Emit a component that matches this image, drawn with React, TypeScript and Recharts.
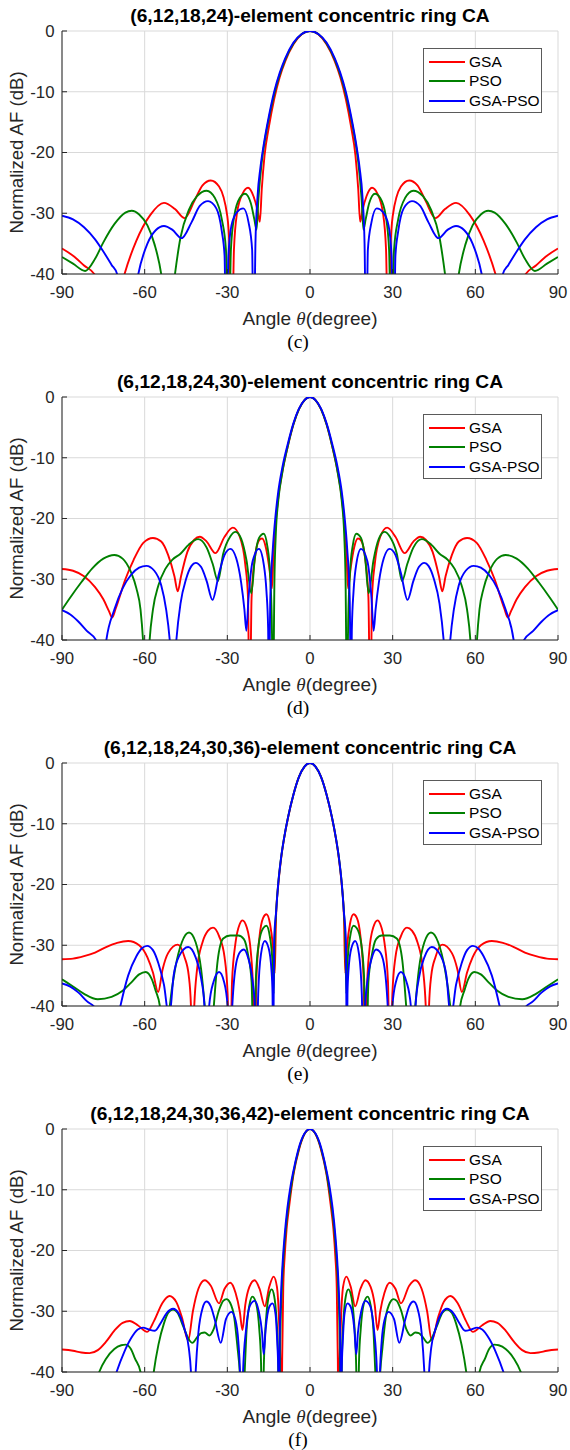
import React from 'react';
import { LineChart, Line, XAxis, YAxis, CartesianGrid } from 'recharts';

type Pt = [number, number];

// angle (degree) vs normalized AF (dB).
// values below -40 are nulls that get clipped by the axis.

// (c) (6,12,18,24)
const p1Gsa: Pt[] = [
  [-90, -35.8], [-86, -37], [-82, -38.6], [-78, -40.2], [-72.5, -50], [-67.3, -40], [-63, -34.5], [-58, -30.3],
  [-53, -28.3], [-49, -29.3], [-45.5, -30.8], [-42, -28], [-39, -25.4], [-36, -24.6], [-33, -25.6], [-30, -30.5],
  [-29.2, -36], [-28.4, -55], [-27.6, -36], [-26.5, -30], [-24.5, -26.8], [-22.5, -25.8], [-20.5, -27.2], [-19, -29.6],
  [-18.2, -31.4], [-17.5, -26], [-16.5, -20.5], [-15, -16], [-13, -11.2], [-11, -7.6], [-9, -5], [-6, -2.2], [-3, -0.55],
  [0, 0],
  [3, -0.55], [6, -2.2], [9, -5], [11, -7.6], [13, -11.2], [15, -16], [16.5, -20.5], [17.5, -26], [18.2, -31.4],
  [19, -29.6], [20.5, -27.2], [22.5, -25.8], [24.5, -26.8], [26.5, -30], [27.6, -36], [28.4, -55], [29.2, -36],
  [30, -30.5], [33, -25.6], [36, -24.6], [39, -25.4], [42, -28], [45.5, -30.8], [49, -29.3], [53, -28.3], [58, -30.3],
  [63, -34.5], [67.3, -40], [72.5, -50], [78, -40.2], [82, -38.6], [86, -37], [90, -35.8],
];
const p1Pso: Pt[] = [
  [-90, -37.2], [-86, -38.3], [-81.6, -39.5], [-78, -37.5], [-75, -34.8], [-71, -31.8], [-67, -29.9], [-64.7, -29.6],
  [-62, -30.2], [-59, -32], [-56.5, -35], [-54, -40], [-51.5, -50], [-49, -40], [-47, -34], [-44, -29.5], [-41, -27.2],
  [-37.5, -26.3], [-34.5, -27.5], [-32, -31], [-30.5, -36], [-29.6, -55], [-28.7, -36], [-27.5, -30.5], [-25.5, -27.5],
  [-23.6, -26.8], [-21.5, -28.3], [-20.2, -31], [-19.4, -32.7], [-18.7, -27.5], [-17.5, -21.5], [-16, -17], [-14, -12.4],
  [-12, -8.7], [-9, -4.7], [-6, -2.05], [-3, -0.5],
  [0, 0],
  [3, -0.5], [6, -2.05], [9, -4.7], [12, -8.7], [14, -12.4], [16, -17], [17.5, -21.5], [18.7, -27.5], [19.4, -32.7],
  [20.2, -31], [21.5, -28.3], [23.6, -26.8], [25.5, -27.5], [27.5, -30.5], [28.7, -36], [29.6, -55], [30.5, -36],
  [32, -31], [34.5, -27.5], [37.5, -26.3], [41, -27.2], [44, -29.5], [47, -34], [49, -40], [51.5, -50], [54, -40],
  [56.5, -35], [59, -32], [62, -30.2], [64.7, -29.6], [67, -29.9], [71, -31.8], [75, -34.8], [78, -37.5], [81.6, -39.5],
  [86, -38.3], [90, -37.2],
];
const p1GsaPso: Pt[] = [
  [-90, -30.4], [-86, -31], [-82, -32.3], [-78, -34.3], [-75, -36.3], [-72, -38.5], [-70, -40], [-66, -52], [-62.3, -40],
  [-59, -35], [-56, -32.8], [-53, -32.1], [-50, -32.7], [-46.6, -34.1], [-43, -31.5], [-40, -28.8], [-37, -28],
  [-34, -29.2], [-32, -33], [-31, -37], [-30.4, -55], [-29.6, -37], [-28.5, -32], [-26.5, -29.8], [-24.2, -29.2],
  [-22.3, -31.5], [-21, -36], [-20.4, -55], [-19.8, -35], [-19, -27], [-18, -22.5], [-17, -19.3], [-15, -14.2],
  [-13, -10], [-11, -6.9], [-9, -4.5], [-6, -1.9], [-3, -0.48],
  [0, 0],
  [3, -0.48], [6, -1.9], [9, -4.5], [11, -6.9], [13, -10], [15, -14.2], [17, -19.3], [18, -22.5], [19, -27], [19.8, -35],
  [20.4, -55], [21, -36], [22.3, -31.5], [24.2, -29.2], [26.5, -29.8], [28.5, -32], [29.6, -37], [30.4, -55], [31, -37],
  [32, -33], [34, -29.2], [37, -28], [40, -28.8], [43, -31.5], [46.6, -34.1], [50, -32.7], [53, -32.1], [56, -32.8],
  [59, -35], [62.3, -40], [66, -52], [70, -40], [72, -38.5], [75, -36.3], [78, -34.3], [82, -32.3], [86, -31], [90, -30.4],
];

// (d) (6,12,18,24,30)
const p2Gsa: Pt[] = [
  [-90, -28.3], [-86, -28.6], [-82, -29.5], [-78, -31.3], [-75, -33.3], [-73, -35.2], [-71.8, -36.3], [-70.5, -34.8],
  [-67, -30], [-64, -26.8], [-60.5, -24], [-57, -23.2], [-54, -23.8], [-51.5, -26], [-49.2, -29.5], [-48, -32],
  [-46.8, -29.5], [-44.5, -25.5], [-42, -23.5], [-40, -23], [-37.5, -23.8], [-34.3, -25.7], [-31, -23], [-28, -21.5],
  [-25.5, -23], [-23.5, -27.5], [-22.5, -33], [-21.9, -55], [-21.2, -33], [-20, -26.5], [-18.5, -23.6], [-17.4, -23.3],
  [-16, -24.8], [-14.8, -28], [-13.8, -31.5], [-13.3, -26.5], [-12.5, -21], [-11.5, -16.5], [-10, -12.2], [-8, -8],
  [-6, -4.5], [-4, -2], [-2, -0.5],
  [0, 0],
  [2, -0.5], [4, -2], [6, -4.5], [8, -8], [10, -12.2], [11.5, -16.5], [12.5, -21], [13.3, -26.5], [13.8, -31.5],
  [14.8, -28], [16, -24.8], [17.4, -23.3], [18.5, -23.6], [20, -26.5], [21.2, -33], [21.9, -55], [22.5, -33],
  [23.5, -27.5], [25.5, -23], [28, -21.5], [31, -23], [34.3, -25.7], [37.5, -23.8], [40, -23], [42, -23.5], [44.5, -25.5],
  [46.8, -29.5], [48, -32], [49.2, -29.5], [51.5, -26], [54, -23.8], [57, -23.2], [60.5, -24], [64, -26.8], [67, -30],
  [70.5, -34.8], [71.8, -36.3], [73, -35.2], [75, -33.3], [78, -31.3], [82, -29.5], [86, -28.6], [90, -28.3],
];
const p2Pso: Pt[] = [
  [-90, -35], [-87, -33], [-83, -30.5], [-79, -28.2], [-75, -26.6], [-71, -26], [-68, -26.6], [-65, -28.8], [-63, -31.5],
  [-61.5, -35], [-60.6, -40], [-59.5, -52], [-58.2, -40], [-57, -35], [-55, -31], [-52.5, -28.3], [-50, -26.8],
  [-47, -25.8], [-44, -24.3], [-40.6, -23.4], [-37.5, -24.8], [-35.3, -27.5], [-33.4, -30.3], [-31.5, -25.8],
  [-29, -23], [-27, -22.2], [-25, -23.3], [-23, -27], [-21.3, -32.3], [-20, -26.5], [-18.5, -23.2], [-16.8, -22.5],
  [-15.5, -24.5], [-14.5, -29], [-13.9, -36], [-13.4, -50], [-12.9, -30], [-12.4, -22.5], [-11.5, -17], [-10, -12.3],
  [-8, -8], [-6, -4.5], [-4, -2], [-2, -0.5],
  [0, 0],
  [2, -0.5], [4, -2], [6, -4.5], [8, -8], [10, -12.3], [11.5, -17], [12.4, -22.5], [12.9, -30], [13.4, -50], [13.9, -36],
  [14.5, -29], [15.5, -24.5], [16.8, -22.5], [18.5, -23.2], [20, -26.5], [21.3, -32.3], [23, -27], [25, -23.3],
  [27, -22.2], [29, -23], [31.5, -25.8], [33.4, -30.3], [35.3, -27.5], [37.5, -24.8], [40.6, -23.4], [44, -24.3],
  [47, -25.8], [50, -26.8], [52.5, -28.3], [55, -31], [57, -35], [58.2, -40], [59.5, -52], [60.6, -40], [61.5, -35],
  [63, -31.5], [65, -28.8], [68, -26.6], [71, -26], [75, -26.6], [79, -28.2], [83, -30.5], [87, -33], [90, -35],
];
const p2GsaPso: Pt[] = [
  [-90, -35.1], [-87, -35.8], [-84, -37], [-81, -38.5], [-77.7, -40], [-75.8, -48], [-73.9, -40], [-71, -35],
  [-68, -31.5], [-65, -29.3], [-62, -28.1], [-59.4, -27.8], [-56.5, -28.6], [-54, -31], [-52.2, -35], [-50.9, -40],
  [-49.7, -48], [-48.5, -40], [-47, -34], [-45, -30], [-43, -27.8], [-41.5, -27.3], [-39.5, -28], [-37.5, -30.3],
  [-35.4, -33.4], [-33, -29], [-31, -26], [-28.9, -25], [-26.8, -26.5], [-25, -30.5], [-23.8, -35], [-23.1, -38.5],
  [-22.3, -33], [-20.8, -27], [-18.5, -25], [-16.8, -27.5], [-15.8, -32], [-15.2, -38], [-14.9, -50], [-14.4, -33],
  [-13.5, -25], [-12.5, -19.5], [-11.5, -15.5], [-10, -11.5], [-8, -7.6], [-6, -4.3], [-4, -1.9], [-2, -0.5],
  [0, 0],
  [2, -0.5], [4, -1.9], [6, -4.3], [8, -7.6], [10, -11.5], [11.5, -15.5], [12.5, -19.5], [13.5, -25], [14.4, -33],
  [14.9, -50], [15.2, -38], [15.8, -32], [16.8, -27.5], [18.5, -25], [20.8, -27], [22.3, -33], [23.1, -38.5], [23.8, -35],
  [25, -30.5], [26.8, -26.5], [28.9, -25], [31, -26], [33, -29], [35.4, -33.4], [37.5, -30.3], [39.5, -28], [41.5, -27.3],
  [43, -27.8], [45, -30], [47, -34], [48.5, -40], [49.7, -48], [50.9, -40], [52.2, -35], [54, -31], [56.5, -28.6],
  [59.4, -27.8], [62, -28.1], [65, -29.3], [68, -31.5], [71, -35], [73.9, -40], [75.8, -48], [77.7, -40], [81, -38.5],
  [84, -37], [87, -35.8], [90, -35.1],
];

// (e) (6,12,18,24,30,36)
const p3Gsa: Pt[] = [
  [-90, -32.3], [-86, -32.2], [-82, -31.8], [-78, -31.2], [-74, -30.3], [-70, -29.6], [-66, -29.3], [-62, -30],
  [-59, -32], [-57, -34.5], [-55.1, -37.7], [-53.5, -34], [-51.5, -31.3], [-48, -29.9], [-45.5, -32], [-44, -35],
  [-43.2, -40], [-42.7, -50], [-42, -40], [-41, -34], [-39, -29.5], [-37, -27.6], [-35.2, -27.1], [-33, -28.5],
  [-31, -32], [-29.9, -38], [-29.1, -55], [-28.3, -36], [-27, -29.5], [-25.5, -26.5], [-24.5, -25.9], [-23, -27],
  [-21.5, -31], [-20.6, -38], [-20.1, -55], [-19.5, -36], [-18.3, -28.5], [-17, -25.5], [-15.8, -24.9], [-14.5, -26.5],
  [-13.5, -30], [-12.8, -34.6], [-12.3, -25], [-11.5, -20], [-10.5, -15.8], [-9.5, -12.7], [-8, -9.1], [-6, -5.2],
  [-4, -2.3], [-2, -0.6],
  [0, 0],
  [2, -0.6], [4, -2.3], [6, -5.2], [8, -9.1], [9.5, -12.7], [10.5, -15.8], [11.5, -20], [12.3, -25], [12.8, -34.6],
  [13.5, -30], [14.5, -26.5], [15.8, -24.9], [17, -25.5], [18.3, -28.5], [19.5, -36], [20.1, -55], [20.6, -38],
  [21.5, -31], [23, -27], [24.5, -25.9], [25.5, -26.5], [27, -29.5], [28.3, -36], [29.1, -55], [29.9, -38], [31, -32],
  [33, -28.5], [35.2, -27.1], [37, -27.6], [39, -29.5], [41, -34], [42, -40], [42.7, -50], [43.2, -40], [44, -35],
  [45.5, -32], [48, -29.9], [51.5, -31.3], [53.5, -34], [55.1, -37.7], [57, -34.5], [59, -32], [62, -30], [66, -29.3],
  [70, -29.6], [74, -30.3], [78, -31.2], [82, -31.8], [86, -32.2], [90, -32.3],
];
const p3Pso: Pt[] = [
  [-90, -35.6], [-86, -36.8], [-82, -38], [-77, -38.9], [-72, -38.5], [-68, -37.5], [-65, -36.2], [-62, -34.8],
  [-59.6, -34.4], [-57.5, -35.5], [-56, -37.5], [-54.5, -40], [-52.7, -50], [-50.9, -40], [-49, -34], [-46.5, -29.5],
  [-43.9, -27.9], [-41.5, -29.5], [-39.5, -34], [-38.2, -40], [-36.5, -50], [-34.9, -40], [-33.5, -32.5],
  [-31.5, -28.9], [-29, -28.4], [-26, -28.4], [-24, -29], [-22.5, -31.5], [-21.2, -36], [-20.4, -50], [-19.6, -35],
  [-18.5, -29.5], [-17, -27.2], [-15.8, -26.8], [-14.6, -28.5], [-13.6, -33], [-13.2, -38], [-12.8, -29],
  [-12.3, -24.5], [-11.5, -19.7], [-10.5, -15.6], [-9.5, -12.6], [-8, -9], [-6, -5.2], [-4, -2.3], [-2, -0.6],
  [0, 0],
  [2, -0.6], [4, -2.3], [6, -5.2], [8, -9], [9.5, -12.6], [10.5, -15.6], [11.5, -19.7], [12.3, -24.5], [12.8, -29],
  [13.2, -38], [13.6, -33], [14.6, -28.5], [15.8, -26.8], [17, -27.2], [18.5, -29.5], [19.6, -35], [20.4, -50],
  [21.2, -36], [22.5, -31.5], [24, -29], [26, -28.4], [29, -28.4], [31.5, -28.9], [33.5, -32.5], [34.9, -40],
  [36.5, -50], [38.2, -40], [39.5, -34], [41.5, -29.5], [43.9, -27.9], [46.5, -29.5], [49, -34], [50.9, -40],
  [52.7, -50], [54.5, -40], [56, -37.5], [57.5, -35.5], [59.6, -34.4], [62, -34.8], [65, -36.2], [68, -37.5],
  [72, -38.5], [77, -38.9], [82, -38], [86, -36.8], [90, -35.6],
];
const p3GsaPso: Pt[] = [
  [-90, -36.3], [-87, -36.8], [-84, -37.8], [-81, -39.2], [-77.7, -40.5], [-73, -50], [-68.8, -40], [-66, -35],
  [-63, -31.8], [-61, -30.5], [-59.1, -30.1], [-57, -30.8], [-55, -33], [-53, -36.5], [-51.1, -42], [-49.5, -35],
  [-47.5, -31.8], [-44.2, -30.3], [-41.5, -32], [-39.5, -35.5], [-38.3, -40], [-37.6, -50], [-36.6, -40], [-35, -36],
  [-33, -34.4], [-31.2, -36], [-29.9, -40], [-29.1, -50], [-28.2, -40], [-26.8, -33], [-25.2, -31], [-24, -30.7],
  [-22.5, -32], [-20.8, -36], [-20, -40], [-19.4, -50], [-18.8, -38], [-17.8, -31.5], [-16.4, -29.3], [-15, -30.5],
  [-14, -34], [-13.6, -38], [-13.4, -50], [-13, -29], [-12.3, -24.5], [-11.5, -19.7], [-10.5, -15.6], [-9.5, -12.6],
  [-8, -9], [-6, -5.2], [-4, -2.3], [-2, -0.6],
  [0, 0],
  [2, -0.6], [4, -2.3], [6, -5.2], [8, -9], [9.5, -12.6], [10.5, -15.6], [11.5, -19.7], [12.3, -24.5], [13, -29],
  [13.4, -50], [13.6, -38], [14, -34], [15, -30.5], [16.4, -29.3], [17.8, -31.5], [18.8, -38], [19.4, -50], [20, -40],
  [20.8, -36], [22.5, -32], [24, -30.7], [25.2, -31], [26.8, -33], [28.2, -40], [29.1, -50], [29.9, -40], [31.2, -36],
  [33, -34.4], [35, -36], [36.6, -40], [37.6, -50], [38.3, -40], [39.5, -35.5], [41.5, -32], [44.2, -30.3],
  [47.5, -31.8], [49.5, -35], [51.1, -42], [53, -36.5], [55, -33], [57, -30.8], [59.1, -30.1], [61, -30.5], [63, -31.8],
  [66, -35], [68.8, -40], [73, -50], [77.7, -40.5], [81, -39.2], [84, -37.8], [87, -36.8], [90, -36.3],
];

// (f) (6,12,18,24,30,36,42)
const p4Gsa: Pt[] = [
  [-90, -36.3], [-86, -36.5], [-83, -36.8], [-80, -36.9], [-77, -36.4], [-74, -35], [-71, -33.2], [-68, -31.9],
  [-65.4, -31.6], [-62.5, -32.3], [-59.1, -33.4], [-56.5, -31.5], [-53.5, -28.6], [-51, -27.5], [-48.5, -28.5],
  [-46.5, -31], [-44.2, -34.8], [-42.5, -30], [-40.5, -26.3], [-38.2, -24.9], [-36, -25.8], [-33, -28.7], [-31, -26.3],
  [-28.9, -25.3], [-27, -27], [-25.5, -30], [-24.5, -33.1], [-23.5, -29], [-22, -26], [-20.1, -24.9], [-18.3, -26.3],
  [-16.4, -29.2], [-14.8, -26], [-13.2, -24.3], [-12, -26], [-11.2, -32], [-10.7, -40], [-10.4, -55], [-10.1, -38],
  [-9.7, -26], [-9.2, -21], [-8.5, -16.5], [-7.5, -12.5], [-6, -7.5], [-4, -3.4], [-2, -0.85],
  [0, 0],
  [2, -0.85], [4, -3.4], [6, -7.5], [7.5, -12.5], [8.5, -16.5], [9.2, -21], [9.7, -26], [10.1, -38], [10.4, -55],
  [10.7, -40], [11.2, -32], [12, -26], [13.2, -24.3], [14.8, -26], [16.4, -29.2], [18.3, -26.3], [20.1, -24.9],
  [22, -26], [23.5, -29], [24.5, -33.1], [25.5, -30], [27, -27], [28.9, -25.3], [31, -26.3], [33, -28.7], [36, -25.8],
  [38.2, -24.9], [40.5, -26.3], [42.5, -30], [44.2, -34.8], [46.5, -31], [48.5, -28.5], [51, -27.5], [53.5, -28.6],
  [56.5, -31.5], [59.1, -33.4], [62.5, -32.3], [65.4, -31.6], [68, -31.9], [71, -33.2], [74, -35], [77, -36.4],
  [80, -36.9], [83, -36.8], [86, -36.5], [90, -36.3],
];
const p4Pso: Pt[] = [
  [-81, -48], [-76.5, -40], [-74, -37.8], [-71, -36.2], [-68.5, -35.6], [-66.9, -35.5], [-65, -36.2], [-63.5, -37.8],
  [-61.5, -40], [-59, -50], [-56.7, -40], [-55, -35.5], [-53, -32], [-51.5, -30.3], [-49.7, -29.7], [-48, -30.3],
  [-46, -32.5], [-44, -34.6], [-42.7, -35.2], [-41, -34.3], [-39.5, -33.6], [-38.2, -33.5], [-36.5, -34], [-35, -33],
  [-33, -29.8], [-31.5, -28.3], [-30.3, -28], [-29, -28.6], [-27.5, -31], [-26.3, -36], [-25.5, -40], [-24.6, -50],
  [-23.7, -40], [-23, -33], [-22, -29], [-20.9, -27.6], [-19.5, -28.8], [-18.4, -33], [-17.8, -38], [-17.3, -50],
  [-16.7, -38], [-15.8, -30.5], [-14.8, -27.2], [-13.9, -26.4], [-13, -27.5], [-12.2, -31], [-11.6, -37], [-11.2, -55],
  [-10.8, -35], [-10.3, -27], [-9.6, -21], [-8.8, -16.5], [-7.8, -12.5], [-6, -7.2], [-4, -3.2], [-2, -0.8],
  [0, 0],
  [2, -0.8], [4, -3.2], [6, -7.2], [7.8, -12.5], [8.8, -16.5], [9.6, -21], [10.3, -27], [10.8, -35], [11.2, -55],
  [11.6, -37], [12.2, -31], [13, -27.5], [13.9, -26.4], [14.8, -27.2], [15.8, -30.5], [16.7, -38], [17.3, -50],
  [17.8, -38], [18.4, -33], [19.5, -28.8], [20.9, -27.6], [22, -29], [23, -33], [23.7, -40], [24.6, -50], [25.5, -40],
  [26.3, -36], [27.5, -31], [29, -28.6], [30.3, -28], [31.5, -28.3], [33, -29.8], [35, -33], [36.5, -34], [38.2, -33.5],
  [39.5, -33.6], [41, -34.3], [42.7, -35.2], [44, -34.6], [46, -32.5], [48, -30.3], [49.7, -29.7], [51.5, -30.3],
  [53, -32], [55, -35.5], [56.7, -40], [59, -50], [61.5, -40], [63.5, -37.8], [65, -36.2], [66.9, -35.5], [68.5, -35.6],
  [71, -36.2], [74, -37.8], [76.5, -40], [81, -48],
];
const p4GsaPso: Pt[] = [
  [-75, -48], [-70.2, -40], [-67.5, -36.8], [-65, -34.5], [-62.5, -33], [-60.6, -32.7], [-58.5, -33], [-56.3, -33.2],
  [-54, -31.8], [-52, -30.3], [-49.7, -29.6], [-47.5, -30.5], [-45.5, -33], [-44, -36], [-43.2, -40], [-42.4, -50],
  [-41.5, -40], [-40.5, -33.5], [-39, -29.5], [-37.6, -28.4], [-36, -29.2], [-34.5, -31.5], [-32.4, -35.2],
  [-30.5, -31.3], [-28.5, -30.1], [-27, -31.5], [-26, -35], [-25.4, -40], [-24.9, -50], [-24.3, -40], [-23.2, -33],
  [-21.7, -29], [-20.1, -28.3], [-18.6, -30], [-17.4, -33.5], [-16.8, -37.1], [-16.1, -33], [-14.8, -29.3],
  [-13.6, -28.7], [-12.5, -30.5], [-11.9, -35], [-11.5, -40], [-11.3, -55], [-11, -35], [-10.5, -27], [-10, -22.5],
  [-9.2, -17.5], [-8.2, -13], [-7, -9.2], [-5.5, -5.8], [-4, -3], [-2, -0.75],
  [0, 0],
  [2, -0.75], [4, -3], [5.5, -5.8], [7, -9.2], [8.2, -13], [9.2, -17.5], [10, -22.5], [10.5, -27], [11, -35],
  [11.3, -55], [11.5, -40], [11.9, -35], [12.5, -30.5], [13.6, -28.7], [14.8, -29.3], [16.1, -33], [16.8, -37.1],
  [17.4, -33.5], [18.6, -30], [20.1, -28.3], [21.7, -29], [23.2, -33], [24.3, -40], [24.9, -50], [25.4, -40], [26, -35],
  [27, -31.5], [28.5, -30.1], [30.5, -31.3], [32.4, -35.2], [34.5, -31.5], [36, -29.2], [37.6, -28.4], [39, -29.5],
  [40.5, -33.5], [41.5, -40], [42.4, -50], [43.2, -40], [44, -36], [45.5, -33], [47.5, -30.5], [49.7, -29.6],
  [52, -30.3], [54, -31.8], [56.3, -33.2], [58.5, -33], [60.6, -32.7], [62.5, -33], [65, -34.5], [67.5, -36.8],
  [70.2, -40], [75, -48],
];

const ANGLE_TICKS = [-90, -60, -30, 0, 30, 60, 90];
const DB_TICKS = [-40, -30, -20, -10, 0];
const SERIES_NAMES = ['GSA', 'PSO', 'GSA-PSO'];
const SERIES_COLORS = ['#ff0000', '#008000', '#0000ff'];
const TITLES = [
  '(6,12,18,24)-element concentric ring CA',
  '(6,12,18,24,30)-element concentric ring CA',
  '(6,12,18,24,30,36)-element concentric ring CA',
  '(6,12,18,24,30,36,42)-element concentric ring CA',
];
const CAPTIONS = ['(c)', '(d)', '(e)', '(f)'];

const PANELS: Pt[][][] = [
  [p1Gsa, p1Pso, p1GsaPso],
  [p2Gsa, p2Pso, p2GsaPso],
  [p3Gsa, p3Pso, p3GsaPso],
  [p4Gsa, p4Pso, p4GsaPso],
];

const FONT = '"Liberation Sans", Arial, Helvetica, sans-serif';
const SERIF = '"Liberation Serif", "Times New Roman", serif';
const AXIS = '#262626';
const PANEL_STEP = 366;
const PLOT_TOP = 31;
const PLOT_BOTTOM = 274;

const toPoints = (arr: Pt[]) => arr.map(([x, y]) => ({ x, y }));

const XTitle = () => (
  <text x={310} y={PLOT_BOTTOM + 44} textAnchor="middle" dominantBaseline="central" fontSize={19} fontFamily={FONT} fill={AXIS}>
    Angle <tspan fontFamily={SERIF} fontStyle="italic">θ</tspan>(degree)
  </text>
);

const YTitle = () => (
  <text
    transform={`translate(16.5, ${(PLOT_TOP + PLOT_BOTTOM) / 2}) rotate(-90)`}
    textAnchor="middle"
    dominantBaseline="central"
    fontSize={18.6}
    fontFamily={FONT}
    fill={AXIS}
  >
    Normalized AF (dB)
  </text>
);

const LegendBox = () => (
  <div
    style={{
      position: 'absolute', left: 423, top: 48, width: 119, height: 65, boxSizing: 'border-box',
      border: '1px solid #5a5a5a', background: '#fff',
    }}
  >
    {SERIES_NAMES.map((name, i) => (
      <div key={name} style={{ position: 'absolute', left: 0, top: [3, 22, 42][i], height: 20, width: 117 }}>
        <div style={{ position: 'absolute', left: 5, top: 9, width: 36, height: 2, background: SERIES_COLORS[i] }} />
        <div style={{ position: 'absolute', left: 45, top: 0, lineHeight: '20px', fontSize: 15.5, fontFamily: FONT, color: '#000', whiteSpace: 'nowrap' }}>
          {name}
        </div>
      </div>
    ))}
  </div>
);

const Panel = ({ index }: { index: number }) => {
  const series = PANELS[index];
  return (
    <div style={{ position: 'absolute', left: 0, top: index * PANEL_STEP, width: 570, height: PANEL_STEP }}>
      <div
        style={{
          position: 'absolute', left: 60, top: 5, width: 500, height: 22, lineHeight: '22px', textAlign: 'center',
          fontSize: 19.2, fontWeight: 'bold', fontFamily: FONT, color: '#000', whiteSpace: 'nowrap',
        }}
      >
        {TITLES[index]}
      </div>
      <div style={{ position: 'absolute', left: 0, top: 0 }}>
        <LineChart width={570} height={352} margin={{ top: PLOT_TOP, right: 12, bottom: 0, left: 0 }}>
          <CartesianGrid stroke="#d9d9d9" strokeWidth={1} />
          <XAxis
            xAxisId={0}
            type="number"
            dataKey="x"
            domain={[-90, 90]}
            ticks={ANGLE_TICKS}
            interval={0}
            allowDataOverflow
            height={78}
            axisLine={{ stroke: AXIS }}
            tickLine={{ stroke: AXIS }}
            tickSize={-5}
            tickMargin={16.8}
            tick={{ fill: AXIS, fontSize: 16.8, fontFamily: FONT }}
            label={<XTitle />}
          />
          <XAxis
            xAxisId="top"
            orientation="top"
            type="number"
            dataKey="x"
            domain={[-90, 90]}
            ticks={ANGLE_TICKS}
            interval={0}
            allowDataOverflow
            height={0}
            axisLine={{ stroke: AXIS }}
            tickLine={{ stroke: AXIS }}
            tickSize={-5}
            tick={false}
          />
          <YAxis
            yAxisId={0}
            type="number"
            domain={[-40, 0]}
            ticks={DB_TICKS}
            interval={0}
            allowDataOverflow
            width={62}
            axisLine={{ stroke: AXIS }}
            tickLine={{ stroke: AXIS }}
            tickSize={-5}
            tickMargin={12.5}
            tick={{ fill: AXIS, fontSize: 16.8, fontFamily: FONT }}
            label={<YTitle />}
          />
          <YAxis
            yAxisId="right"
            orientation="right"
            type="number"
            domain={[-40, 0]}
            ticks={DB_TICKS}
            interval={0}
            allowDataOverflow
            width={0}
            axisLine={{ stroke: AXIS }}
            tickLine={{ stroke: AXIS }}
            tickSize={-5}
            tick={false}
          />
          {series.map((s, i) => (
            <Line
              key={SERIES_NAMES[i]}
              xAxisId={0}
              yAxisId={0}
              data={toPoints(s)}
              dataKey="y"
              name={SERIES_NAMES[i]}
              type="monotone"
              stroke={SERIES_COLORS[i]}
              strokeWidth={1.9}
              dot={false}
              activeDot={false}
              isAnimationActive={false}
            />
          ))}
        </LineChart>
      </div>
      <LegendBox />
      <div
        style={{
          position: 'absolute', left: 248, top: PLOT_BOTTOM + 56, width: 100, height: 24, lineHeight: '24px',
          textAlign: 'center', fontSize: 19.5, fontFamily: SERIF, color: '#000',
        }}
      >
        {CAPTIONS[index]}
      </div>
    </div>
  );
};

export default function App() {
  return (
    <div style={{ position: 'absolute', left: 0, top: 0, width: 570, height: 1450, background: '#fff', overflow: 'hidden' }}>
      {PANELS.map((_, i) => (
        <Panel key={i} index={i} />
      ))}
    </div>
  );
}
